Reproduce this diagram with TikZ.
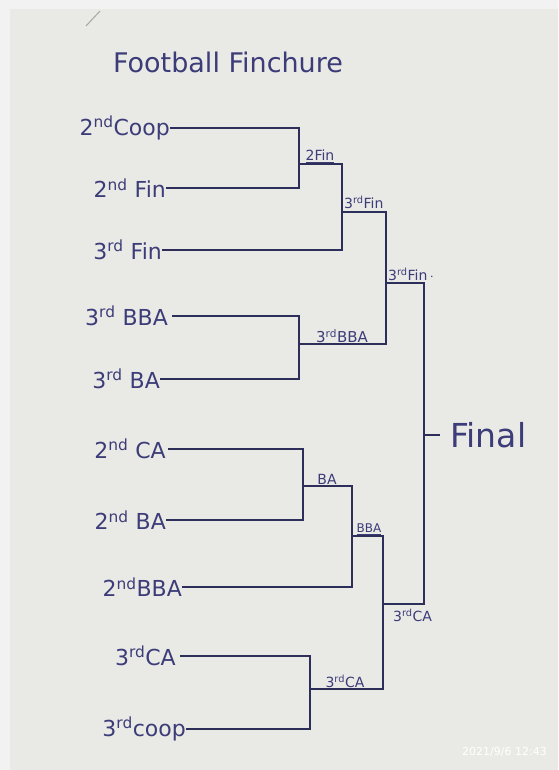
\documentclass[tikz,border=0pt]{standalone}
\usepackage{fontspec}
\setmainfont{DejaVu Sans}
\begin{document}
\begin{tikzpicture}[x=1pt,y=-1pt,
  ink/.style={draw=inkc, line width=1.3pt},
  team/.style={anchor=east, inner sep=0pt, text=txtc, font=\fontsize{22}{22}\selectfont},
  mlab/.style={anchor=south, inner sep=1pt, text=txtc, font=\fontsize{14}{14}\selectfont},
]
\definecolor{inkc}{HTML}{2E2E5A}
\definecolor{txtc}{HTML}{3C3C78}
\definecolor{outer}{HTML}{F2F2F2}
\definecolor{paper}{HTML}{E9E9E6}
\useasboundingbox (0,0) rectangle (558,770);
\fill[outer] (0,0) rectangle (558,770);
\fill[paper] (10,9) rectangle (558,770);
% stray pen mark
\draw[draw=gray!70, line width=1pt] (86,26) -- (100,11);
% title
\node[text=txtc, font=\fontsize{27}{27}\selectfont, inner sep=0pt] (title) at (228,62) {Football Finchure};
% teams
\node[team] (t1) at (170,128) {2\textsuperscript{nd}Coop};
\node[team] (t2) at (166,188) {2\textsuperscript{nd} Fin};
\node[team] (t3) at (162,250) {3\textsuperscript{rd} Fin};
\node[team] (t4) at (168,316) {3\textsuperscript{rd} BBA};
\node[team] (t5) at (160,379) {3\textsuperscript{rd} BA};
\node[team] (t6) at (166,449) {2\textsuperscript{nd} CA};
\node[team] (t7) at (166,520) {2\textsuperscript{nd} BA};
\node[team] (t8) at (182,587) {2\textsuperscript{nd}BBA};
\node[team] (t9) at (176,656) {3\textsuperscript{rd}CA};
\node[team] (t10) at (186,729) {3\textsuperscript{rd}coop};
% match coordinates
\coordinate (m1) at (299,164);   % 2Fin
\coordinate (m2) at (342,212);   % 3rd Fin
\coordinate (m3) at (386,283);   % 3rd Fin (semi)
\coordinate (m4) at (299,344);   % 3rd BBA
\coordinate (m5) at (303,486);   % BA
\coordinate (m6) at (352,536);   % BBA
\coordinate (m7) at (310,689);   % 3rd CA
\coordinate (m8) at (383,604);   % 3rd CA (semi)
\coordinate (fin) at (424,435);  % final
% round 1
\draw[ink] (t1.east) -- (299,128) -- (299,188) -- (t2.east);
\draw[ink] (t4.east) ++(4,0) -- (299,316) -- (299,379) -- (t5.east);
\draw[ink] (t6.east) ++(2,0) -- (303,449) -- (303,520) -- (t7.east);
\draw[ink] (t9.east) ++(4,0) -- (310,656) -- (310,729) -- (t10.east);
\draw[ink] (m1) -- (342,164) -- (342,250) -- (t3.east);
\draw[ink] (m5) -- (352,486) -- (352,587) -- (t8.east);
% labels round 1
\node[mlab] (l1) at (320,164) {\underline{2Fin}};
\node[mlab, font=\fontsize{15}{15}\selectfont] (l4) at (342,344) {3\textsuperscript{rd}BBA};
\node[mlab] (l5) at (327,486) {BA};
\node[mlab] (l7) at (345,689) {3\textsuperscript{rd}CA};
% round 2
\draw[ink] (m2) -- (386,212) -- (386,344) -- (m4);
\draw[ink] (m6) -- (383,536) -- (383,689) -- (m7);
\node[mlab, anchor=south west, inner sep=0pt] (l2) at (344,209) {3\textsuperscript{rd}Fin};
\node[mlab, font=\fontsize{12}{12}\selectfont] (l6) at (369,536) {\underline{BBA}};
% semis to final
\draw[ink] (m3) -- (424,283) -- (424,604) -- (m8);
\node[mlab, anchor=south west, inner sep=0pt] (l3) at (388,281) {3\textsuperscript{rd}Fin\,$\cdot$};
\node[anchor=north west, inner sep=0pt, text=txtc, font=\fontsize{14}{14}\selectfont] (l8) at (393,609) {3\textsuperscript{rd}CA};
\draw[ink] (fin) -- (440,435);
\node[anchor=west, inner sep=0pt, text=txtc, font=\fontsize{33}{33}\selectfont] (final) at (450,435) {Final};
% timestamp
\node[anchor=east, inner sep=0pt, text=white, font=\fontsize{11}{11}\selectfont] (ts) at (547,752) {2021/9/6 12:43};
\end{tikzpicture}
\end{document}
